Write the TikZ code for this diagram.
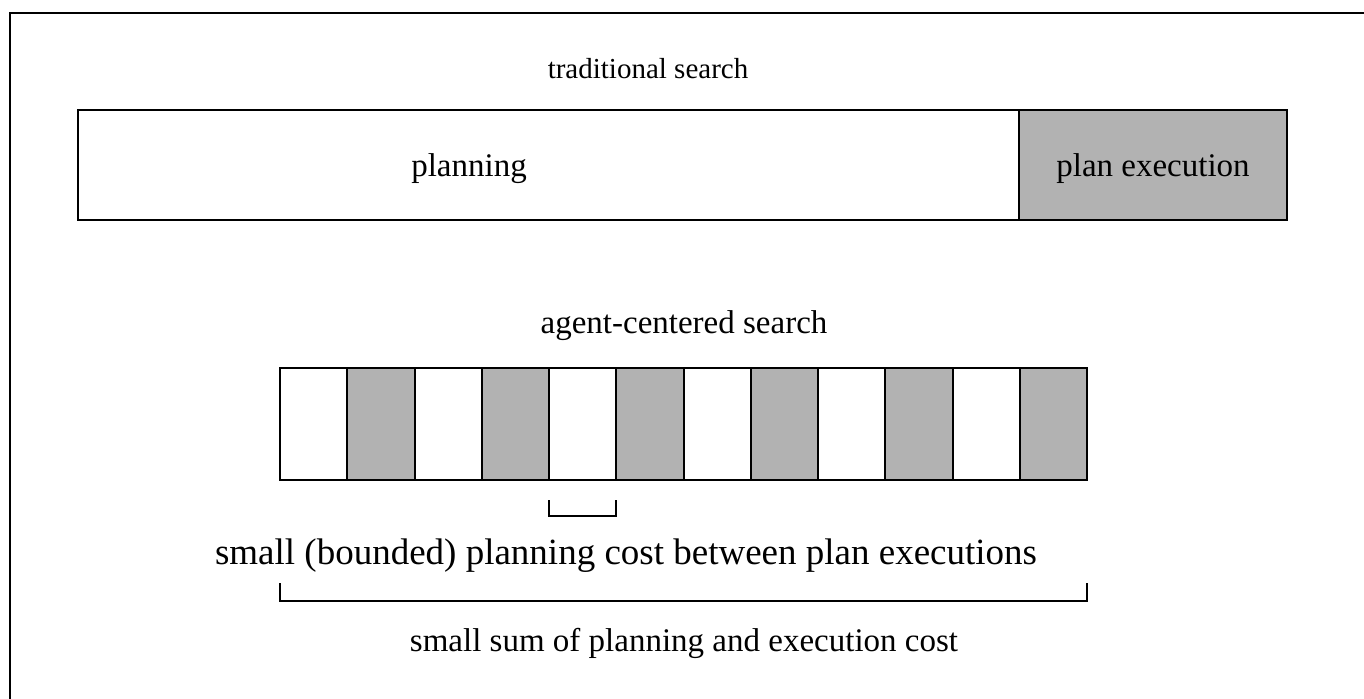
\documentclass[tikz,border=0pt]{standalone}
\usepackage{fontspec}
\setmainfont{Liberation Serif}
\begin{document}
\begin{tikzpicture}[x=0.5pt, y=-0.5pt]
\tikzstyle{every node} = [inner sep=0pt, outer sep=0pt, font=\fontsize{16.5}{20}\selectfont]
\tikzstyle{phase} = [draw, line width=1pt, rectangle, minimum height=55pt, anchor=north west]
\tikzstyle{cell} = [draw, line width=1pt, rectangle, minimum width=33.625pt, minimum height=56pt, anchor=north west]
\tikzstyle{bracket} = [line width=1pt]
\useasboundingbox (0,0) rectangle (1364,698);
% frame
\draw[line width=1pt] (1370,12.5) -- (10,12.5) -- (10,704);
% traditional search
\node[anchor=base, font=\fontsize{14.5}{18}\selectfont] (trad) at (648,78) {traditional search};
\node[phase, minimum width=470.5pt] (planbox) at (78,110) {};
\node[phase, fill=black!30, minimum width=134pt] (execbox) at (1019,110) {};
\node[anchor=base] (planning) at (469,176) {planning};
\node[anchor=base] (execution) at (1153,176) {plan execution};
% agent-centered search
\node[anchor=base] (acs) at (684,333) {agent-centered search};
\foreach \i in {0,2,...,10}
\node[cell, fill=white] (c\i) at (280+67.25*\i,368) {};
\foreach \i in {1,3,...,11}
\node[cell, fill=black!30] (c\i) at (280+67.25*\i,368) {};
% brackets
\coordinate (sl) at (549,500);
\coordinate (sr) at (616,500);
\coordinate (bl) at (280,583);
\coordinate (br) at (1087,583);
\draw[bracket] (sl) -- ++(0,16) -| (sr);
\draw[bracket] (bl) -- ++(0,18) -| (br);
\node[anchor=base, font=\fontsize{18.5}{22}\selectfont] (small) at (626,564) {small (bounded) planning cost between plan executions};
\node[anchor=base] (sum) at (684,651) {small sum of planning and execution cost};
\end{tikzpicture}
\end{document}
